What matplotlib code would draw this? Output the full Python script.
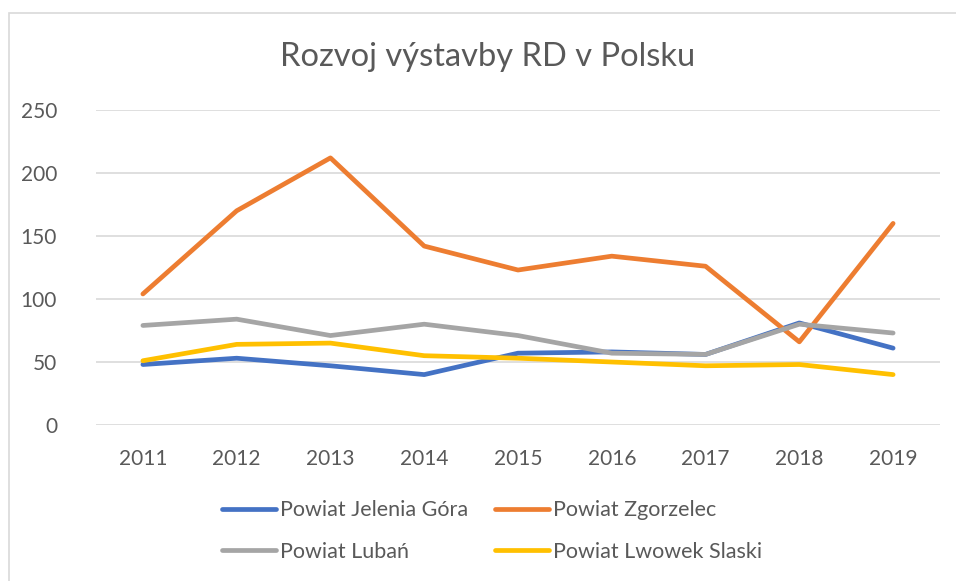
import matplotlib.pyplot as plt
from matplotlib.patches import Rectangle

years = ['2011', '2012', '2013', '2014', '2015', '2016', '2017', '2018', '2019']
jelenia_gora = [48, 53, 47, 40, 57, 58, 56, 81, 61]
zgorzelec = [104, 170, 212, 142, 123, 134, 126, 66, 160]
luban = [79, 84, 71, 80, 71, 57, 56, 80, 73]
lwowek = [51, 64, 65, 55, 53, 50, 47, 48, 40]

series = [
    ('Powiat Jelenia Góra', jelenia_gora, '#4472C4'),
    ('Powiat Zgorzelec', zgorzelec, '#ED7D31'),
    ('Powiat Lubań', luban, '#A5A5A5'),
    ('Powiat Lwowek Slaski', lwowek, '#FFC000'),
]

plt.rcParams['font.family'] = ['Lato', 'DejaVu Sans']

fig = plt.figure(figsize=(9.56, 5.81), dpi=100)
W, H = 956, 581
ax = fig.add_axes([96 / W, 1 - 425 / H, (940 - 96) / W, (425 - 110) / H])

x = list(range(len(years)))
lines = []
for name, vals, col in series:
    ln, = ax.plot(x, vals, color=col, linewidth=3.4, label=name, solid_capstyle='round')
    lines.append(ln)

ax.set_xlim(-0.5, len(years) - 0.5)
ax.set_ylim(0, 250)
ax.set_yticks([0, 50, 100, 150, 200, 250])
ax.set_xticks(x)
ax.set_xticklabels(years)
ax.grid(axis='y', color='#D9D9D9', linewidth=1.2)
ax.set_axisbelow(True)
for s in ax.spines.values():
    s.set_visible(False)
ax.tick_params(length=0, labelsize=15, colors='#595959', pad=17)
ax.tick_params(axis='y', pad=28)

fig.text(488 / W, 1 - 57 / H, 'Rozvoj výstavby RD v Polsku', ha='center', va='center',
         fontsize=23.5, color='#595959')

# legend is filled row by row in the reference
order = [0, 2, 1, 3]
fig.legend([lines[i] for i in order], [series[i][0] for i in order],
           loc='center', bbox_to_anchor=(492 / W, 1 - 531 / H), ncol=2, frameon=False,
           fontsize=15.5, labelcolor='#595959', handlelength=2.5, columnspacing=1.25,
           labelspacing=1.0, handletextpad=0.2)

fig.patches.append(Rectangle((9 / W, -0.05), 1.0, 1 - 13 / H + 0.05, transform=fig.transFigure,
                             fill=False, edgecolor='#D9D9D9', linewidth=1.2))

fig.savefig('out.png', dpi=100)
